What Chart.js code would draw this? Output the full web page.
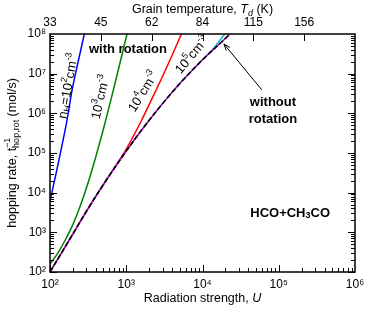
<!DOCTYPE html>
<html>
<head>
<meta charset="utf-8">
<script src="https://cdn.jsdelivr.net/npm/chart.js@4.4.1/dist/chart.umd.min.js"></script>
<style>
  html, body { margin: 0; padding: 0; background: #fff; }
</style>
</head>
<body>
<canvas id="chart" width="373" height="309"></canvas>
<script>
// values (U = radiation strength, rate in mol/s)
const blueU = [100, 117.5, 139.6, 166, 195, 234, 282];
const blueRate = [6.17e3, 2.51e4, 1.2e5, 6.31e5, 3.89e6, 2.0e7, 1.0e8];

const greenU = [100, 126, 158, 200, 251, 316, 398, 501, 631, 794, 1023];
const greenRate = [158, 295, 631, 1585, 4786, 1.78e4, 7.94e4, 3.98e5, 2.24e6, 1.35e7, 1.0e8];

const redU = [100, 178, 316, 562, 794, 1000, 1259, 1585, 1995, 2512, 3162, 3981, 5012, 5309];
const redRate = [100, 631, 3980, 2.24e4, 6.17e4, 1.26e5, 2.82e5, 6.61e5, 1.66e6, 4.17e6, 1.07e7, 2.88e7, 7.94e7, 1.0e8];

const cyanU = [100, 178, 316, 562, 1000, 1778, 3162, 5623, 1e4, 1.413e4, 1.95e4];
const cyanRate = [100, 631, 3980, 2.24e4, 1.12e5, 5.01e5, 2.0e6, 7.08e6, 2.24e7, 4.47e7, 1.0e8];

const magentaU = [100, 178, 316, 562, 1000, 1778, 3162, 5623, 1e4, 1.778e4, 2.29e4];
const magentaRate = [100, 631, 3980, 2.24e4, 1.12e5, 5.01e5, 2.0e6, 7.08e6, 2.24e7, 6.31e7, 1.0e8];

const noRotU = [100, 178, 316, 562, 1000, 1778, 3162, 5623, 1e4, 1.778e4, 2.29e4];
const noRotRate = [100, 631, 3980, 2.24e4, 1.12e5, 5.01e5, 2.0e6, 7.08e6, 2.24e7, 6.31e7, 1.0e8];

// axis ticks
const uDecades = [2, 3, 4, 5, 6];
const rateDecades = [2, 3, 4, 5, 6, 7, 8];
const minorSteps = [1, 2, 3, 4, 5, 6, 7, 8, 9];
const tempLabels = ["33", "45", "62", "84", "115", "156"];
const tempTickU = [100, 464, 2154, 1e4, 46416, 215443];

const FONT = "'Liberation Sans', Arial, sans-serif";
const SUP = { "0": "\u2070", "1": "\u00b9", "2": "\u00b2", "3": "\u00b3", "4": "\u2074", "5": "\u2075", "6": "\u2076", "7": "\u2077", "8": "\u2078", "9": "\u2079" };

function pts(xs, ys) {
  return xs.map((x, i) => ({ x: x, y: ys[i] }));
}

function powLabel(v) {
  const e = Math.round(Math.log10(v));
  if (Math.abs(Math.log10(v) - e) > 1e-6) return "";
  return "10" + String(e).split("").map((c) => SUP[c]).join("");
}

// draws a run of text pieces: [text, size, dy, weight, keepX]
function drawRich(ctx, parts, x, y, align) {
  let total = 0;
  parts.forEach((p) => {
    ctx.font = (p[3] || "normal") + " " + p[1] + "px " + FONT;
    p.w = ctx.measureText(p[0]).width;
    if (!p[4]) total += p.w;
  });
  let cx = align === "center" ? x - total / 2 : align === "right" ? x - total : x;
  parts.forEach((p) => {
    ctx.font = (p[3] || "normal") + " " + p[1] + "px " + FONT;
    ctx.fillText(p[0], cx, y + p[2]);
    if (!p[4]) cx += p.w;
  });
}

const framePlugin = {
  id: "frame",
  afterDraw(chart) {
    const ctx = chart.ctx;
    const a = chart.chartArea;
    const xs = chart.scales.x;
    const ys = chart.scales.y;
    const xt = chart.scales.xTop;
    const P = (u, r) => [xs.getPixelForValue(u), ys.getPixelForValue(r)];

    ctx.save();
    ctx.fillStyle = "#000000";
    ctx.strokeStyle = "#000000";

    // inward tick marks, drawn as thin filled bars
    const L = Math.round(a.left), R = Math.round(a.right);
    const T = Math.round(a.top), B = Math.round(a.bottom);
    uDecades.slice(0, -1).forEach((e) => {
      minorSteps.forEach((m) => {
        const px = Math.round(xs.getPixelForValue(m * Math.pow(10, e)));
        const len = m === 1 ? 7 : 4;
        ctx.fillRect(px, B - len, 1, len);
      });
    });
    rateDecades.slice(0, -1).forEach((e) => {
      minorSteps.forEach((m) => {
        const py = Math.round(ys.getPixelForValue(m * Math.pow(10, e)));
        const len = m === 1 ? 7 : 4;
        ctx.fillRect(L, py, len, 1);
        ctx.fillRect(R - len, py, len, 1);
      });
    });
    tempTickU.forEach((u) => {
      const px = Math.round(xt.getPixelForValue(u));
      ctx.fillRect(px, T, 1, 7);
    });

    // frame
    ctx.lineWidth = 1.5;
    ctx.strokeRect(a.left, a.top, a.right - a.left, a.bottom - a.top);

    // axis titles
    ctx.textBaseline = "alphabetic";
    const cxm = (a.left + a.right) / 2;
    drawRich(ctx, [["Radiation strength, ", 12.5, 0], ["U", 12.5, 0, "italic"]], cxm, 302, "center");
    drawRich(ctx, [["Grain temperature, ", 12.5, 0], ["T", 12.5, 0, "italic"], ["d", 9, 3, "italic"], [" (K)", 12.5, 0]], cxm, 13, "center");

    ctx.save();
    ctx.translate(16, (a.top + a.bottom) / 2);
    ctx.rotate(-Math.PI / 2);
    drawRich(ctx, [
      ["hopping rate, t", 12.5, 0],
      ["\u22121", 9, -6, "normal", true],
      ["hop,rot", 9, 3],
      [" (mol/s)", 12.5, 0]
    ], 0, 0, "center");
    ctx.restore();

    // curve labels, rotated along the lines
    const labels = [
      { at: [175, 4.9e6], ang: -80, parts: [["n", 13, 0], ["H", 9, 3], ["=10", 13, 0], ["2", 9, -5], ["cm", 13, 0], ["-3", 9, -5]] },
      { at: [467, 2.57e6], ang: -77, parts: [["10", 13, 0], ["3", 9, -5], ["cm", 13, 0], ["-3", 9, -5]] },
      { at: [1683, 3.47e6], ang: -58, parts: [["10", 13, 0], ["4", 9, -5], ["cm", 13, 0], ["-3", 9, -5]] },
      { at: [7396, 2.95e7], ang: -50, parts: [["10", 13, 0], ["5", 9, -5], ["cm", 13, 0], ["-3", 9, -5]] }
    ];
    ctx.textBaseline = "middle";
    labels.forEach((l) => {
      const q = P(l.at[0], l.at[1]);
      ctx.save();
      ctx.translate(q[0], q[1]);
      ctx.rotate((l.ang * Math.PI) / 180);
      drawRich(ctx, l.parts, 0, 0, "center");
      ctx.restore();
    });

    // bold notes
    let q = P(1054, 4.2e7);
    drawRich(ctx, [["with rotation", 13, 0, "bold"]], q[0], q[1], "center");
    q = P(8.4e4, 1.93e6);
    drawRich(ctx, [["without", 13, 0, "bold"]], q[0], q[1], "center");
    q = P(8.4e4, 7.2e5);
    drawRich(ctx, [["rotation", 13, 0, "bold"]], q[0], q[1], "center");
    q = P(1.41e5, 3.07e3);
    drawRich(ctx, [["HCO+CH", 13, 0, "bold"], ["3", 9, 3, "bold"], ["CO", 13, 0, "bold"]], q[0], q[1], "center");

    // arrow to the no-rotation curve
    const t0 = P(6.0e4, 3.9e6);
    const t1 = P(1.91e4, 5.6e7);
    const ang = Math.atan2(t1[1] - t0[1], t1[0] - t0[0]);
    ctx.lineWidth = 1;
    ctx.beginPath();
    ctx.moveTo(t0[0], t0[1]);
    ctx.lineTo(t1[0], t1[1]);
    ctx.moveTo(t1[0] - 7 * Math.cos(ang - 0.35), t1[1] - 7 * Math.sin(ang - 0.35));
    ctx.lineTo(t1[0], t1[1]);
    ctx.lineTo(t1[0] - 7 * Math.cos(ang + 0.35), t1[1] - 7 * Math.sin(ang + 0.35));
    ctx.stroke();

    ctx.restore();
  }
};

function line(data, color, extra) {
  return Object.assign({
    data: data,
    borderColor: color,
    borderWidth: 1.5,
    pointRadius: 0,
    fill: false,
    tension: 0.35,
    xAxisID: "x",
    yAxisID: "y"
  }, extra || {});
}

// first dataset is painted last, so the dashed no-rotation line goes first
new Chart(document.getElementById("chart"), {
  type: "line",
  data: {
    datasets: [
      line(pts(noRotU, noRotRate), "#000000", { borderDash: [5, 2.5] }),
      line(pts(magentaU, magentaRate), "#c000c0"),
      line(pts(cyanU, cyanRate), "#00c0c0"),
      line(pts(redU, redRate), "#ff0000"),
      line(pts(greenU, greenRate), "#008000"),
      line(pts(blueU, blueRate), "#0000ff")
    ]
  },
  options: {
    responsive: false,
    animation: false,
    events: [],
    layout: { padding: { top: 0, left: 0, right: 18, bottom: 0 } },
    plugins: { legend: { display: false }, tooltip: { enabled: false } },
    scales: {
      x: {
        type: "logarithmic",
        position: "bottom",
        min: 100,
        max: 1e6,
        grid: { display: false, drawTicks: false },
        border: { display: false },
        afterBuildTicks: (s) => { s.ticks = uDecades.map((e) => ({ value: Math.pow(10, e), major: true })); },
        ticks: { autoSkip: false, maxRotation: 0, padding: 5, color: "#000", font: { family: FONT, size: 12 }, callback: (v) => powLabel(v) },
        afterFit: (s) => { s.height = 37; }
      },
      xTop: {
        type: "logarithmic",
        position: "top",
        min: 100,
        max: 1e6,
        grid: { display: false, drawTicks: false },
        border: { display: false },
        afterBuildTicks: (s) => { s.ticks = tempTickU.map((u) => ({ value: u })); },
        ticks: { autoSkip: false, maxRotation: 0, padding: 4, color: "#000", font: { family: FONT, size: 12 }, callback: (v, i) => tempLabels[i] },
        afterFit: (s) => { s.height = 34; }
      },
      y: {
        type: "logarithmic",
        position: "left",
        min: 100,
        max: 1e8,
        grid: { display: false, drawTicks: false },
        border: { display: false },
        afterBuildTicks: (s) => { s.ticks = rateDecades.map((e) => ({ value: Math.pow(10, e), major: true })); },
        ticks: { autoSkip: false, padding: 4, color: "#000", font: { family: FONT, size: 12 }, callback: (v) => powLabel(v) },
        afterFit: (s) => { s.width = 50; }
      }
    }
  },
  plugins: [framePlugin]
});
</script>
</body>
</html>
